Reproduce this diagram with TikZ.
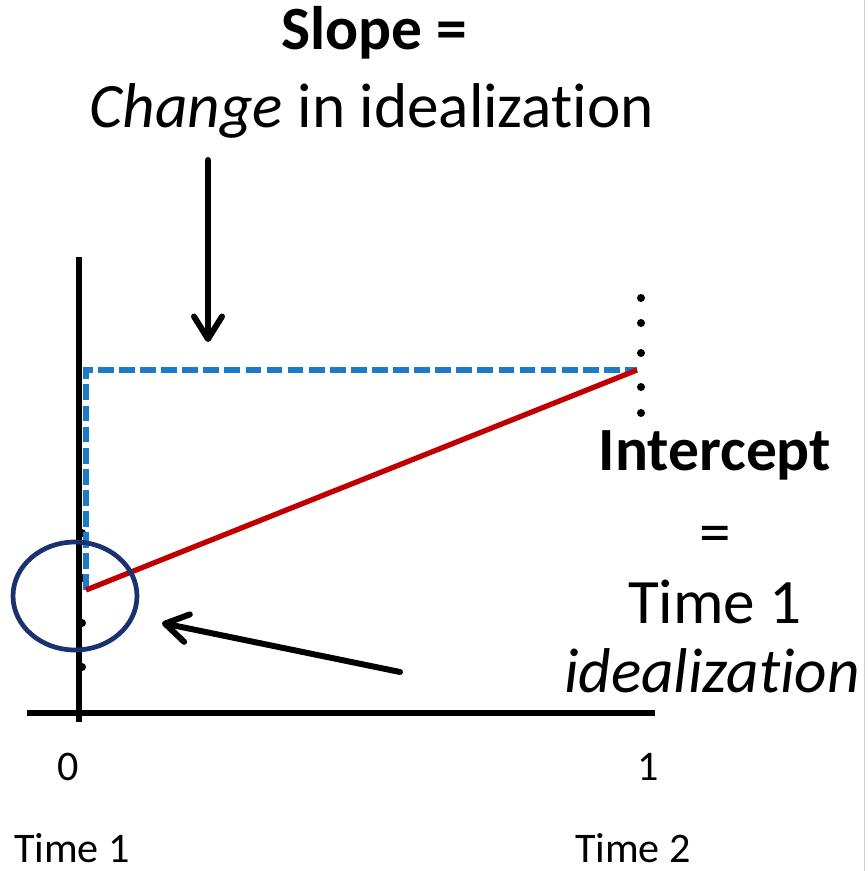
\documentclass[tikz,border=0pt]{standalone}
\usepackage{fontspec}
\setmainfont{Carlito}[Ligatures=NoCommon]
\usetikzlibrary{arrows.meta,positioning,shapes.geometric}
\definecolor{Guide}{HTML}{1B7BC9}
\definecolor{Trend}{HTML}{C00000}
\definecolor{Ring}{HTML}{1A3270}
\definecolor{Rule}{HTML}{CFCFCF}
\tikzset{
  axis/.style={draw=black,line width=3.4pt},
  guide/.style={draw=Guide,line width=3pt,dash pattern=on 9pt off 3pt},
  trend/.style={draw=Trend,line width=3pt},
  ring/.style={draw=Ring,line width=2.7pt,ellipse,minimum width=2.48cm,minimum height=2.16cm,inner sep=0pt},
  pointer/.style={-{Straight Barb[length=4.5mm,width=5.6mm,round]},draw=black,line width=3.4pt,line cap=round},
  headline/.style={font=\fontsize{36}{40}\selectfont,anchor=base},
  headbold/.style={font=\bfseries\fontsize{35}{40}\selectfont,anchor=base},
  tick/.style={font=\fontsize{24}{26}\selectfont,anchor=base}
}
\begin{document}
\begin{tikzpicture}[x=0.02cm,y=-0.02cm]
  \useasboundingbox (0,0) rectangle (867,871);
  \draw[draw=Rule,line width=.6pt] (864.5,0) -- (864.5,871);
  % axes
  \coordinate (ytop) at (79,257);
  \coordinate (ybot) at (79,722);
  \coordinate (xleft) at (27,713);
  \coordinate (xright) at (655,713);
  \foreach \y in {533,578,623,667} \fill (82,\y) circle (0.08cm);
  \draw[axis] (ytop) -- (ybot);
  \draw[axis] (xleft) -- (xright);
  % change and trend
  \coordinate (t1) at (86,590);
  \coordinate (corner) at (86,370);
  \coordinate (t2) at (637,370);
  \foreach \y in {298,323,353,387,413} \fill (641,\y) circle (0.08cm);
  \draw[guide] (t1) -- (corner) -- (t2);
  \draw[trend] (t1) -- (t2);
  \node[ring] (icpt) at (75,596) {};
  % labels
  \node[headbold] (slope) at (374,50) {Slope =};
  \node[headline] (change) at (372,128) {\textit{Change} in idealization};
  \node[headbold] (icptlabel) at (715,470) {Intercept};
  \node[headline] (eqsign) at (715,553) {=};
  \node[headline] (timeone) at (715,623) {Time 1};
  \node[headline] (ideal) at (712,692) {\textit{idealization}};
  \coordinate (slopetail) at (208,160);
  \coordinate (slopetip) at (208,342);
  \draw[pointer] (slopetail) -- (slopetip);
  \coordinate (icpttail) at (400,672);
  \coordinate (icpttip) at (162,623);
  \draw[pointer] (icpttail) -- (icpttip);
  % ticks
  \node[tick] (zero) at (68,780) {0};
  \node[tick] (one) at (648,780) {1};
  \node[tick] (time1) at (72,862) {Time 1};
  \node[tick] (time2) at (633,862) {Time 2};
\end{tikzpicture}
\end{document}
